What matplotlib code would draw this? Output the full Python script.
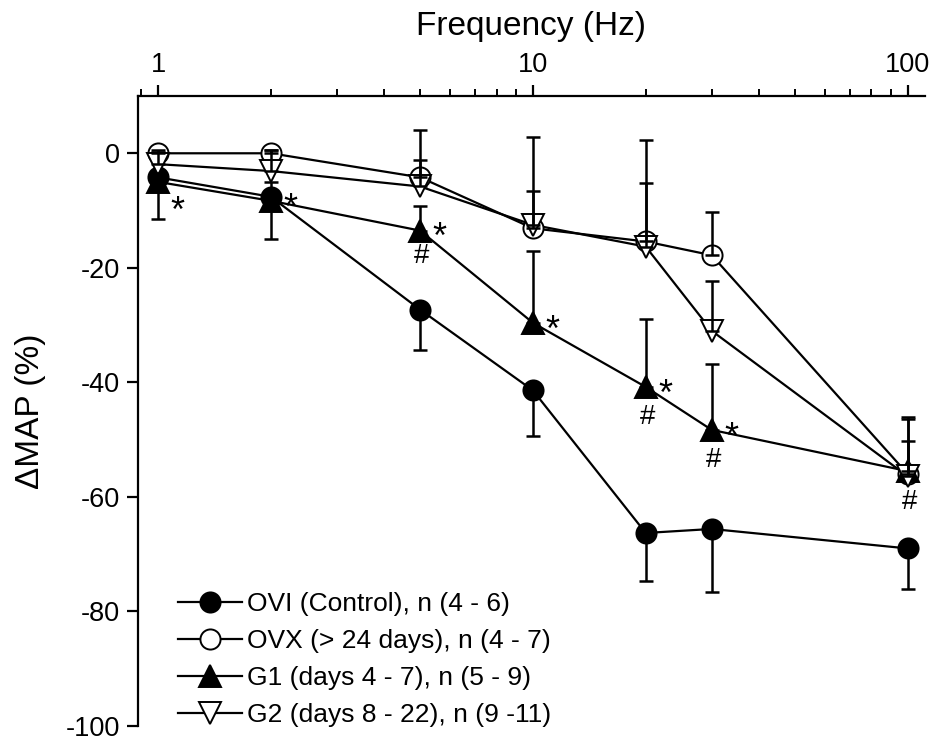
import matplotlib
matplotlib.use("Agg")
import matplotlib.pyplot as plt
from matplotlib.ticker import NullFormatter, LogLocator

plt.rcParams['font.family'] = ['Liberation Sans', 'DejaVu Sans']

# Stimulation frequencies (Hz)
freq = [1, 2, 5, 10, 20, 30, 100]

# Mean change in MAP (%) and SEM per group
ovi_mean = [-4.2, -7.6, -27.3, -41.4, -66.3, -65.6, -69.0]
ovi_sem = [7.2, 7.3, 7.0, 7.9, 8.3, 11.0, 7.1]

ovx_mean = [0.0, 0.0, -4.2, -13.1, -15.4, -17.8, -56.0]
ovx_sem = [0.5, 0.5, 3.0, 6.5, 10.2, 7.6, 10.0]

g1_mean = [-5.0, -8.3, -13.5, -29.6, -40.8, -48.3, -55.5]
g1_sem = [1.5, 3.3, 4.3, 12.5, 11.9, 11.5, 5.3]

g2_mean = [-1.9, -3.1, -5.8, -12.5, -16.3, -31.0, -56.4]
g2_sem = [2.2, 3.6, 9.8, 15.3, 18.7, 8.7, 10.0]

labels = ["OVI (Control), n (4 - 6)",
          "OVX (> 24 days), n (4 - 7)",
          "G1 (days 4 - 7), n (5 - 9)",
          "G2 (days 8 - 22), n (9 -11)"]

# Significance marks on the G1 series
star_freq = [1, 2, 5, 10, 20, 30]
hash_freq = [5, 20, 30, 100]

fig = plt.figure(figsize=(9.34, 7.42), dpi=100)
ax = fig.add_axes([0.1478, 0.0216, 0.8422, 0.849])

series = [
    (ovi_mean, ovi_sem, 'o', 'black', -1),
    (ovx_mean, ovx_sem, 'o', 'white', 1),
    (g1_mean, g1_sem, '^', 'black', 1),
    (g2_mean, g2_sem, 'v', 'white', 1),
]

for i, ((m, s, mk, fc, direction), lab) in enumerate(zip(series, labels)):
    ax.plot(freq, m, '-', color='black', lw=1.6, zorder=2)
    ms = 14.5 if mk == 'o' else 15.5
    ax.plot(freq, m, linestyle='none', marker=mk, markersize=ms,
            markerfacecolor=fc, markeredgecolor='black', markeredgewidth=1.4,
            zorder=3 + i * 0.1)
    if direction < 0:
        yerr = [s, [0] * len(s)]
    else:
        yerr = [[0] * len(s), s]
    ax.errorbar(freq, m, yerr=yerr, fmt='none', ecolor='black',
                elinewidth=1.8, capsize=5, capthick=1.8, zorder=4)
    # legend proxy
    ax.plot([], [], '-', color='black', lw=1.6, marker=mk, markersize=ms,
            markerfacecolor=fc, markeredgecolor='black', markeredgewidth=1.4,
            label=lab)

g1_lookup = dict(zip(freq, g1_mean))
for f in star_freq:
    dy = -22 if f == 1 else -6
    ax.annotate('*', (f, g1_lookup[f]), xytext=(9, dy), textcoords='offset points',
                ha='left', va='center', fontsize=26)
for f in hash_freq:
    ax.annotate('#', (f, g1_lookup[f]), xytext=(1, -18 if f == 5 else -22),
                textcoords='offset points', ha='center', va='center', fontsize=20)

ax.set_xscale('log')
ax.set_xlim(0.884, 111)
ax.set_ylim(-100, 10)

ax.xaxis.set_ticks_position('top')
ax.xaxis.set_label_position('top')
ax.set_xticks([1, 10, 100])
ax.set_xticklabels(['1', '10', '100'])
ax.xaxis.set_minor_locator(LogLocator(base=10, subs=range(2, 10)))
ax.xaxis.set_minor_formatter(NullFormatter())
ax.set_yticks([0, -20, -40, -60, -80, -100])
ax.set_yticklabels(['0', '-20', '-40', '-60', '-80', '-100'])

ax.tick_params(axis='both', which='major', direction='out', length=8, width=1.6,
               labelsize=19.5, pad=5)
ax.tick_params(axis='x', which='minor', direction='out', length=5, width=1.4)

for side in ('right', 'bottom'):
    ax.spines[side].set_visible(False)
for side in ('left', 'top'):
    ax.spines[side].set_linewidth(1.6)

ax.set_xlabel('Frequency (Hz)', fontsize=24, labelpad=12)
ax.set_ylabel('ΔMAP (%)', fontsize=24, labelpad=14)

ax.legend(loc='lower left', bbox_to_anchor=(0.038, -0.019), frameon=False,
          fontsize=19, handlelength=2.4, handletextpad=0.2, labelspacing=0.5,
          borderaxespad=0.0)

fig.savefig('out.png', dpi=100)
